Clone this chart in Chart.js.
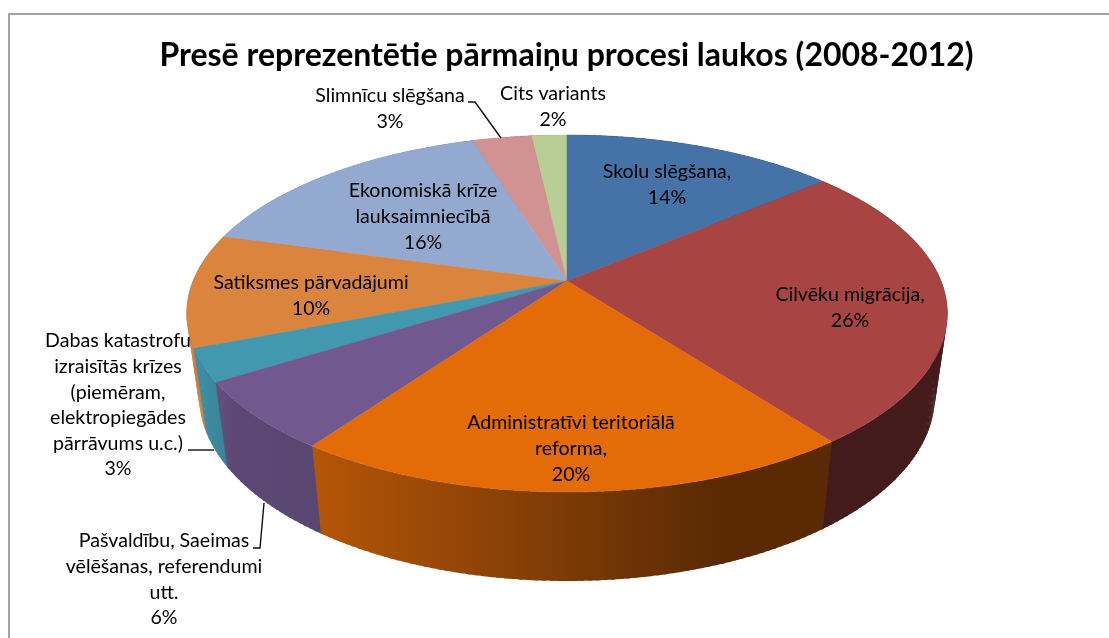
<!DOCTYPE html>
<html>
<head>
<meta charset="utf-8">
<title>Presē reprezentētie pārmaiņu procesi laukos</title>
<script src="https://cdn.jsdelivr.net/npm/chart.js@4/dist/chart.umd.min.js"></script>
<style>
  html, body { margin: 0; padding: 0; background: #fff; }
  #wrap { width: 1109px; height: 638px; }
</style>
</head>
<body>
<div id="wrap"><canvas id="pie" width="1109" height="638"></canvas></div>
<script>
const titleText = 'Presē reprezentētie pārmaiņu procesi laukos (2008-2012)';
const categories = [
  'Skolu slēgšana,',
  'Cilvēku migrācija,',
  'Administratīvi teritoriālā reforma,',
  'Pašvaldību, Saeimas vēlēšanas, referendumi utt.',
  'Dabas katastrofu izraisītās krīzes (piemēram, elektropiegādes pārrāvums u.c.)',
  'Satiksmes pārvadājumi',
  'Ekonomiskā krīze lauksaimniecībā',
  'Slimnīcu slēgšana',
  'Cits variants'
];
// labels print whole percents, the slice angles read a bit finer
const shares = [13.85, 25.8, 20.2, 6.25, 2.95, 10.25, 15.9, 3, 1.8];
const sliceColors = ['#4572a7', '#a84543', '#e36c09', '#71588f', '#4198af', '#db843d', '#93a9cf', '#d19392', '#b9cd96'];
const labelLines = [
  ['Skolu slēgšana,'],
  ['Cilvēku migrācija,'],
  ['Administratīvi teritoriālā', 'reforma,'],
  ['Pašvaldību, Saeimas', 'vēlēšanas, referendumi', 'utt.'],
  ['Dabas katastrofu', 'izraisītās krīzes', '(piemēram,', 'elektropiegādes', 'pārrāvums u.c.)'],
  ['Satiksmes pārvadājumi'],
  ['Ekonomiskā krīze', 'lauksaimniecībā'],
  ['Slimnīcu slēgšana'],
  ['Cits variants']
];

// where the first line of each label sits
const labelAnchors = [[667, 172], [850, 295], [571, 423], [164, 541], [118, 341], [311, 283], [423, 191], [390, 96], [553, 94]];
const leaderLines = [
  [[188, 450], [214, 450]],
  [[253, 548], [260, 548], [264, 503]],
  [[468, 102], [475, 102], [501, 138]]
];
const wallShade = [[186, 0.97], [222, 0.88], [232, 0.82], [320, 0.79], [720, 0.39], [948, 0.39]];

// perspective discs, top face and bottom face of the pie
const topDisc = { cx: 567, cy: 281, rx: 374, ry: 172.6, k: 0.182 };
const bottomDisc = { cx: 567, cy: 362.7, rx: 361.9, ry: 179, k: 0.18 };

function project(disc, a) {
  const X = Math.sin(a), Y = -Math.cos(a), d = 1 - disc.k * Y;
  return [disc.cx + disc.rx * X / d, disc.cy + disc.ry * Y / d];
}

function shadeColor(hex, f) {
  const n = parseInt(hex.slice(1), 16);
  return `rgb(${Math.round((n >> 16) * f)},${Math.round(((n >> 8) & 255) * f)},${Math.round((n & 255) * f)})`;
}

function wallFill(ctx, color) {
  const x0 = wallShade[0][0], x1 = wallShade[wallShade.length - 1][0];
  const g = ctx.createLinearGradient(x0, 0, x1, 0);
  wallShade.forEach(s => g.addColorStop((s[0] - x0) / (x1 - x0), shadeColor(color, s[1])));
  return g;
}

const pie3d = {
  id: 'pie3d',
  beforeDatasetDraw(chart, args) {
    const ctx = chart.ctx;
    const arcs = chart.getDatasetMeta(args.index).data;
    const step = Math.PI / 180;
    const order = arcs.map((arc, i) => {
      const mid = (arc.startAngle + arc.endAngle) / 2 + Math.PI / 2;
      return { i, a0: arc.startAngle + Math.PI / 2, a1: arc.endAngle + Math.PI / 2, depth: -Math.cos(mid) };
    }).sort((p, q) => p.depth - q.depth);

    // side wall, back slices first. all but the last run slightly long so no seam shows
    order.forEach((s, n) => {
      const over = n < order.length - 1 ? step * 0.25 : 0;
      const start = s.a0 - over, stop = s.a1 + over;
      ctx.fillStyle = wallFill(ctx, sliceColors[s.i]);
      for (let a = start; a < stop; a += step) {
        const b = Math.min(a + step * 1.5, stop);
        const p = [project(topDisc, a), project(topDisc, b), project(bottomDisc, b), project(bottomDisc, a)];
        ctx.beginPath();
        p.forEach((pt, m) => m ? ctx.lineTo(pt[0], pt[1]) : ctx.moveTo(pt[0], pt[1]));
        ctx.closePath();
        ctx.fill();
      }
    });

    // top face
    order.forEach(s => {
      ctx.beginPath();
      ctx.moveTo(topDisc.cx, topDisc.cy);
      for (let a = s.a0; a < s.a1; a += step / 2) {
        const p = project(topDisc, a);
        ctx.lineTo(p[0], p[1]);
      }
      const end = project(topDisc, s.a1);
      ctx.lineTo(end[0], end[1]);
      ctx.closePath();
      ctx.fillStyle = sliceColors[s.i];
      ctx.fill();
      ctx.strokeStyle = sliceColors[s.i];
      ctx.lineWidth = 0.5;
      ctx.stroke();
    });
    return false;
  },
  afterDraw(chart) {
    const ctx = chart.ctx;
    ctx.save();
    // frame, only left and top are in the crop
    ctx.strokeStyle = '#868686';
    ctx.lineWidth = 1.5;
    ctx.beginPath();
    ctx.moveTo(9, 638);
    ctx.lineTo(9, 14);
    ctx.lineTo(1109, 14);
    ctx.stroke();

    ctx.strokeStyle = '#111';
    ctx.lineWidth = 1.4;
    leaderLines.forEach(line => {
      ctx.beginPath();
      line.forEach((p, n) => n ? ctx.lineTo(p[0], p[1]) : ctx.moveTo(p[0], p[1]));
      ctx.stroke();
    });

    ctx.fillStyle = '#000';
    ctx.font = '19.6px Lato';
    ctx.textAlign = 'center';
    ctx.textBaseline = 'middle';
    labelLines.forEach((lines, i) => {
      const [x, y] = labelAnchors[i];
      lines.concat(Math.round(shares[i]) + '%').forEach((t, n) => ctx.fillText(t, x, y + n * 25.6));
    });
    ctx.restore();
  }
};

new Chart(document.getElementById('pie'), {
  type: 'pie',
  data: {
    labels: categories,
    datasets: [{ data: shares, backgroundColor: sliceColors, borderWidth: 0 }]
  },
  options: {
    responsive: false,
    animation: false,
    layout: { padding: { left: 24, top: 36 } },
    plugins: {
      legend: { display: false },
      tooltip: { enabled: false },
      title: {
        display: true,
        text: titleText,
        color: '#000',
        font: { family: 'Lato', size: 32, weight: 'bold' },
        padding: 0
      }
    }
  },
  plugins: [pie3d]
});
</script>
</body>
</html>
